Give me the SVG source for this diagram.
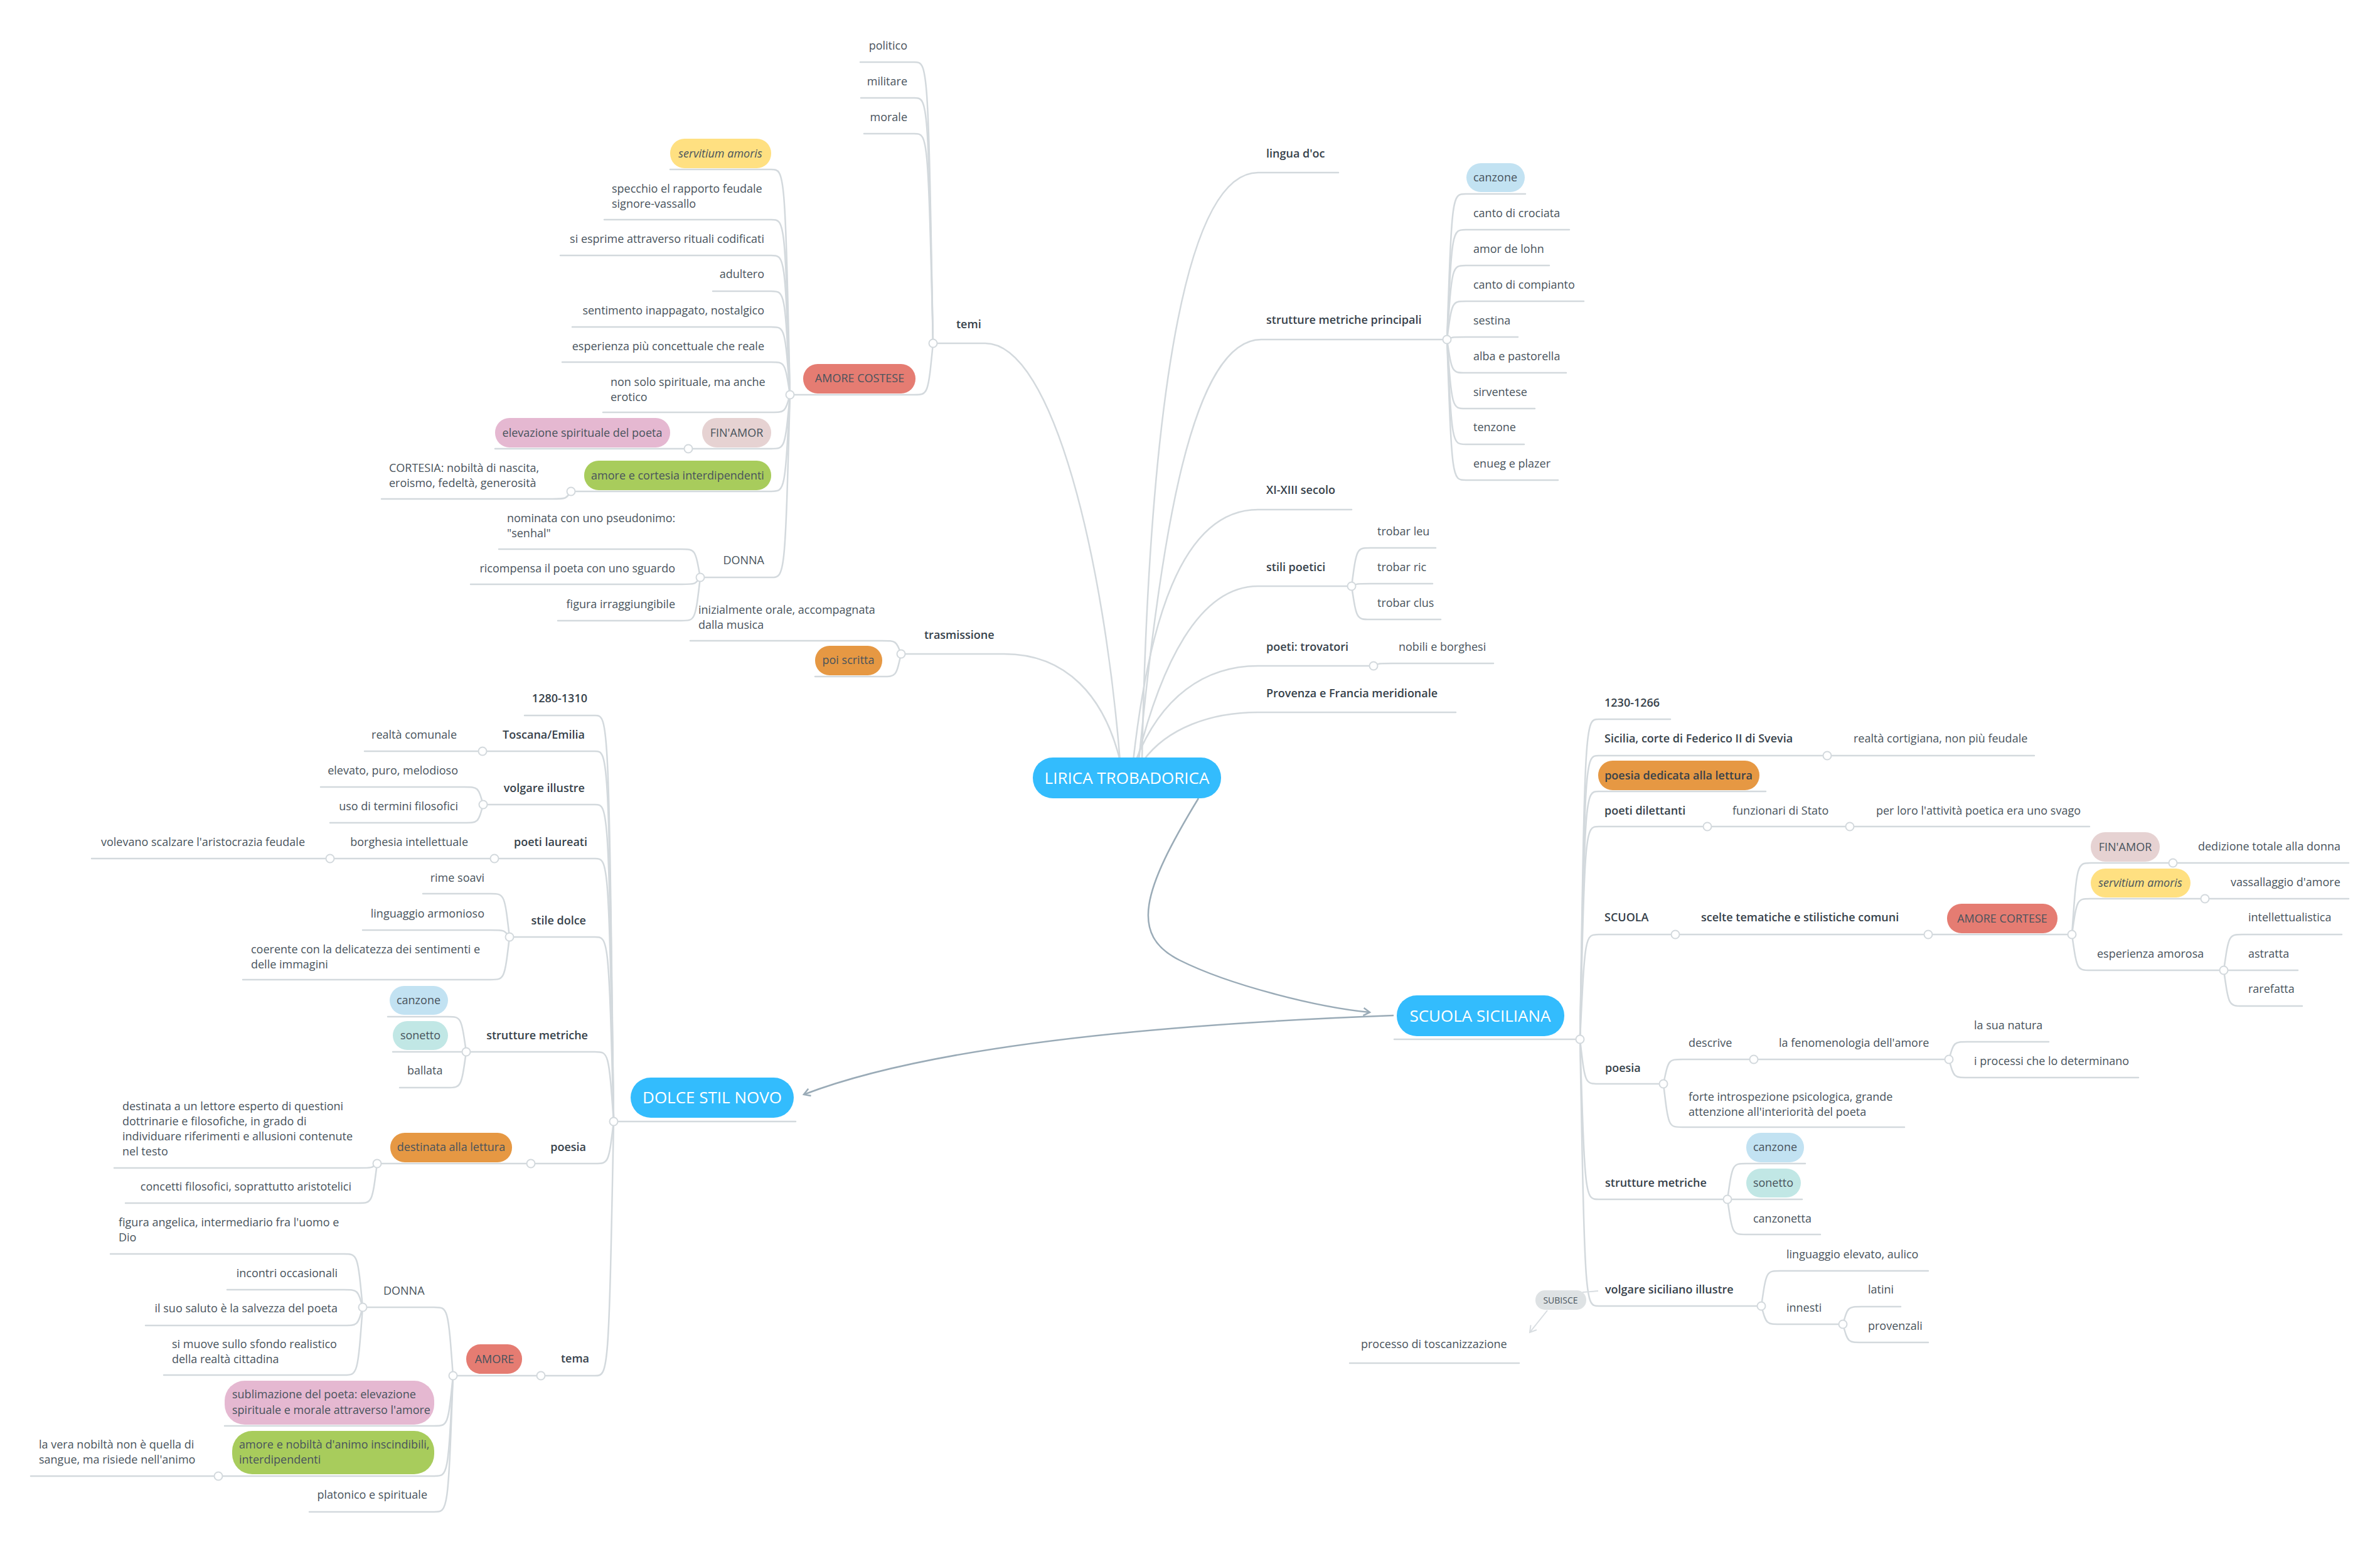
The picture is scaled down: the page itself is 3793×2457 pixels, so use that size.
<svg xmlns="http://www.w3.org/2000/svg" width="3793" height="2457" viewBox="0 0 3793 2457">
<style>
.t{font-family:"Open Sans","Liberation Sans",sans-serif;font-size:18px;fill:#48535c}
.b{font-weight:600;fill:#36414a}
.i{font-style:italic}
.e{text-anchor:end}
.m{text-anchor:middle}
.ct{font-family:"Open Sans","Liberation Sans",sans-serif;font-size:26px;fill:#ffffff;text-anchor:middle}
.ln{fill:none;stroke:#d3d9dd;stroke-width:2.5;stroke-linecap:round}
.hub{fill:#ffffff;stroke:#d3d9dd;stroke-width:2}
.ar{fill:none;stroke:#9aabb7;stroke-width:2.5}
.rel{fill:none;stroke:#d8dde1;stroke-width:2}
.cen{fill:#33bcfd}
.red{fill:#e57c72}
.ora{fill:#e69843}
.yel{fill:#ffe081}
.pin{fill:#e5b8d1}
.gre{fill:#a8cc5c}
.fin{fill:#e6d2d2}
.blu{fill:#c2e2f2}
.tea{fill:#c1e7e5}
.gry{fill:#dee2e4}
</style>
<defs>
<marker id="arr" markerUnits="userSpaceOnUse" markerWidth="20" markerHeight="20" refX="12" refY="8" orient="auto">
<path d="M2,2 L12,8 L2,14" fill="none" stroke="#9aabb7" stroke-width="2.5"/>
</marker>
<marker id="arr2" markerUnits="userSpaceOnUse" markerWidth="20" markerHeight="20" refX="12" refY="8" orient="auto">
<path d="M2,2 L12,8 L2,14" fill="none" stroke="#d8dde1" stroke-width="2"/>
</marker>
</defs>
<rect width="3793" height="2457" fill="#ffffff"/>

<g id="connectors">
<!-- root LIRICA branches -->
<path class="ln" d="M1785 1212 C1760 900 1680 547 1570 547 L1487 547"/>
<path class="ln" d="M1785 1212 C1760 1110 1700 1042 1600 1042 L1436 1042"/>
<path class="ln" d="M1820 1212 C1830 700 1880 275 2005 275 L2133 275"/>
<path class="ln" d="M1815 1212 C1850 850 1900 541 2010 541 L2306 541"/>
<path class="ln" d="M1806 1212 C1830 1000 1880 812 2005 812 L2154 812"/>
<path class="ln" d="M1812 1212 C1850 1060 1910 934 2005 934 L2154 934"/>
<path class="ln" d="M1810 1212 C1850 1110 1920 1061 2005 1061 L2189 1061"/>
<path class="ln" d="M1822 1212 C1860 1160 1930 1135 2005 1135 L2320 1135"/>
<!-- temi -->
<path class="ln" d="M1487 547 C1479 99 1479 99 1457 99 L1371 99"/>
<path class="ln" d="M1487 547 C1479 156 1479 156 1457 156 L1372 156"/>
<path class="ln" d="M1487 547 C1479 213 1479 213 1457 213 L1377 213"/>
<path class="ln" d="M1487 547 C1479 629 1479 629 1457 629 L1259 629"/>
<!-- AMORE COSTESE -->
<path class="ln" d="M1259 629 C1251 270 1251 270 1229 270 L1068 270"/>
<path class="ln" d="M1259 629 C1251 350 1251 350 1229 350 L963 350"/>
<path class="ln" d="M1259 629 C1251 407 1251 407 1229 407 L893 407"/>
<path class="ln" d="M1259 629 C1251 464 1251 464 1229 464 L1136 464"/>
<path class="ln" d="M1259 629 C1251 521 1251 521 1229 521 L912 521"/>
<path class="ln" d="M1259 629 C1251 577 1251 577 1229 577 L896 577"/>
<path class="ln" d="M1259 629 C1251 657 1251 657 1229 657 L961 657"/>
<path class="ln" d="M1259 629 C1251 715 1251 715 1229 715 L1097 715"/>
<path class="ln" d="M1259 629 C1251 783 1251 783 1229 783 L910 783"/>
<path class="ln" d="M1259 629 C1251 920 1251 920 1229 920 L1116 920"/>
<path class="ln" d="M1097 715 L789 715"/>
<path class="ln" d="M910 783 C902 795 902 795 880 795 L608 795"/>
<!-- DONNA (lirica) -->
<path class="ln" d="M1116 920 C1108 875 1108 875 1086 875 L795 875"/>
<path class="ln" d="M1116 920 C1108 931 1108 931 1086 931 L750 931"/>
<path class="ln" d="M1116 920 C1108 989 1108 989 1086 989 L889 989"/>
<!-- trasmissione -->
<path class="ln" d="M1436 1042 C1428 1021 1428 1021 1406 1021 L1100 1021"/>
<path class="ln" d="M1436 1042 C1428 1078 1428 1078 1406 1078 L1299 1078"/>
<!-- strutture metriche principali -->
<path class="ln" d="M2306 541 C2314 309 2314 309 2336 309 L2431 309"/>
<path class="ln" d="M2306 541 C2314 366 2314 366 2336 366 L2501 366"/>
<path class="ln" d="M2306 541 C2314 423 2314 423 2336 423 L2469 423"/>
<path class="ln" d="M2306 541 C2314 480 2314 480 2336 480 L2524 480"/>
<path class="ln" d="M2306 541 C2314 537 2314 537 2336 537 L2419 537"/>
<path class="ln" d="M2306 541 C2314 594 2314 594 2336 594 L2496 594"/>
<path class="ln" d="M2306 541 C2314 651 2314 651 2336 651 L2446 651"/>
<path class="ln" d="M2306 541 C2314 708 2314 708 2336 708 L2429 708"/>
<path class="ln" d="M2306 541 C2314 765 2314 765 2336 765 L2483 765"/>
<!-- stili poetici -->
<path class="ln" d="M2154 934 C2162 873 2162 873 2184 873 L2288 873"/>
<path class="ln" d="M2154 934 C2162 930 2162 930 2184 930 L2283 930"/>
<path class="ln" d="M2154 934 C2162 987 2162 987 2184 987 L2296 987"/>
<path class="ln" d="M2189 1061 C2197 1057 2197 1057 2219 1057 L2380 1057"/>
<!-- SCUOLA SICILIANA -->
<path class="ln" d="M2222 1656 L2518 1656"/>
<path class="ln" d="M2518 1656 C2526 1146 2526 1146 2548 1146 L2662 1146"/>
<path class="ln" d="M2518 1656 C2526 1204 2526 1204 2548 1204 L2912 1204"/>
<path class="ln" d="M2518 1656 C2526 1261 2526 1261 2548 1261 L2814 1261"/>
<path class="ln" d="M2518 1656 C2526 1317 2526 1317 2548 1317 L2721 1317"/>
<path class="ln" d="M2518 1656 C2526 1489 2526 1489 2548 1489 L2670 1489"/>
<path class="ln" d="M2518 1656 C2526 1727 2526 1727 2548 1727 L2651 1727"/>
<path class="ln" d="M2518 1656 C2526 1911 2526 1911 2548 1911 L2753 1911"/>
<path class="ln" d="M2518 1656 C2526 2081 2526 2081 2548 2081 L2807 2081"/>
<path class="ln" d="M2912 1204 L3242 1204"/>
<path class="ln" d="M2721 1317 L2948 1317 L3330 1317"/>
<path class="ln" d="M2670 1489 L3073 1489 L3302 1489"/>
<path class="ln" d="M3302 1489 C3310 1375 3310 1375 3332 1375 L3463 1375 L3743 1375"/>
<path class="ln" d="M3302 1489 C3310 1432 3310 1432 3332 1432 L3514 1432 L3743 1432"/>
<path class="ln" d="M3302 1489 C3310 1546 3310 1546 3332 1546 L3544 1546"/>
<path class="ln" d="M3544 1546 C3552 1489 3552 1489 3574 1489 L3732 1489"/>
<path class="ln" d="M3544 1546 L3662 1546"/>
<path class="ln" d="M3544 1546 C3552 1603 3552 1603 3574 1603 L3669 1603"/>
<path class="ln" d="M2651 1727 C2659 1688 2659 1688 2681 1688 L2795 1688 L3106 1688"/>
<path class="ln" d="M2651 1727 C2659 1796 2659 1796 2681 1796 L3035 1796"/>
<path class="ln" d="M3106 1688 C3114 1660 3114 1660 3136 1660 L3265 1660"/>
<path class="ln" d="M3106 1688 C3114 1717 3114 1717 3136 1717 L3408 1717"/>
<path class="ln" d="M2753 1911 C2761 1854 2761 1854 2783 1854 L2877 1854"/>
<path class="ln" d="M2753 1911 L2872 1911"/>
<path class="ln" d="M2753 1911 C2761 1967 2761 1967 2783 1967 L2901 1967"/>
<path class="ln" d="M2807 2081 C2815 2025 2815 2025 2837 2025 L3073 2025"/>
<path class="ln" d="M2807 2081 C2815 2110 2815 2110 2837 2110 L2937 2110"/>
<path class="ln" d="M2937 2110 C2945 2082 2945 2082 2967 2082 L3029 2082"/>
<path class="ln" d="M2937 2110 C2945 2139 2945 2139 2967 2139 L3073 2139"/>
<path class="ln" d="M2151 2172 L2421 2172"/>
<!-- DOLCE STIL NOVO -->
<path class="ln" d="M978 1787 L1268 1787"/>
<path class="ln" d="M978 1787 C970 1140 970 1140 948 1140 L836 1140"/>
<path class="ln" d="M978 1787 C970 1197 970 1197 948 1197 L769 1197"/>
<path class="ln" d="M978 1787 C970 1282 970 1282 948 1282 L770 1282"/>
<path class="ln" d="M978 1787 C970 1368 970 1368 948 1368 L788 1368"/>
<path class="ln" d="M978 1787 C970 1493 970 1493 948 1493 L812 1493"/>
<path class="ln" d="M978 1787 C970 1676 970 1676 948 1676 L743 1676"/>
<path class="ln" d="M978 1787 C970 1854 970 1854 948 1854 L846 1854"/>
<path class="ln" d="M978 1787 C970 2192 970 2192 948 2192 L862 2192"/>
<path class="ln" d="M769 1197 L581 1197"/>
<path class="ln" d="M770 1282 C762 1254 762 1254 740 1254 L511 1254"/>
<path class="ln" d="M770 1282 C762 1311 762 1311 740 1311 L526 1311"/>
<path class="ln" d="M788 1368 L526 1368 L146 1368"/>
<path class="ln" d="M812 1493 C804 1424 804 1424 782 1424 L674 1424"/>
<path class="ln" d="M812 1493 C804 1482 804 1482 782 1482 L578 1482"/>
<path class="ln" d="M812 1493 C804 1561 804 1561 782 1561 L387 1561"/>
<path class="ln" d="M743 1676 C735 1620 735 1620 713 1620 L618 1620"/>
<path class="ln" d="M743 1676 L626 1676"/>
<path class="ln" d="M743 1676 C735 1733 735 1733 713 1733 L637 1733"/>
<path class="ln" d="M846 1854 L601 1854"/>
<path class="ln" d="M601 1854 C593 1861 593 1861 571 1861 L182 1861"/>
<path class="ln" d="M601 1854 C593 1917 593 1917 571 1917 L200 1917"/>
<path class="ln" d="M862 2192 L722 2192"/>
<path class="ln" d="M722 2192 C714 2083 714 2083 692 2083 L578 2083"/>
<path class="ln" d="M722 2192 C714 2272 714 2272 692 2272 L358 2272"/>
<path class="ln" d="M722 2192 C714 2352 714 2352 692 2352 L348 2352 L49 2352"/>
<path class="ln" d="M722 2192 C714 2409 714 2409 692 2409 L493 2409"/>
<path class="ln" d="M578 2083 C570 1998 570 1998 548 1998 L176 1998"/>
<path class="ln" d="M578 2083 C570 2055 570 2055 548 2055 L362 2055"/>
<path class="ln" d="M578 2083 C570 2112 570 2112 548 2112 L232 2112"/>
<path class="ln" d="M578 2083 C570 2191 570 2191 548 2191 L261 2191"/>
<!-- relationships -->
<path class="ar" marker-end="url(#arr)" d="M1910 1272 C1820 1420 1800 1490 1880 1530 C1960 1570 2100 1605 2183 1613"/>
<path class="ar" marker-end="url(#arr)" d="M2221 1618 C1900 1630 1500 1660 1281 1744"/>
<path class="rel" d="M2547 2057 L2522 2059"/>
<path class="rel" marker-end="url(#arr2)" d="M2466 2088 L2438 2123"/>
<!-- hubs -->
<circle class="hub" cx="1487" cy="547" r="6.5"/>
<circle class="hub" cx="1259" cy="629" r="6.5"/>
<circle class="hub" cx="1097" cy="715" r="6.5"/>
<circle class="hub" cx="910" cy="783" r="6.5"/>
<circle class="hub" cx="1116" cy="920" r="6.5"/>
<circle class="hub" cx="1436" cy="1042" r="6.5"/>
<circle class="hub" cx="2306" cy="541" r="6.5"/>
<circle class="hub" cx="2154" cy="934" r="6.5"/>
<circle class="hub" cx="2189" cy="1061" r="6.5"/>
<circle class="hub" cx="2518" cy="1656" r="6.5"/>
<circle class="hub" cx="2912" cy="1204" r="6.5"/>
<circle class="hub" cx="2721" cy="1317" r="6.5"/>
<circle class="hub" cx="2948" cy="1317" r="6.5"/>
<circle class="hub" cx="2670" cy="1489" r="6.5"/>
<circle class="hub" cx="3073" cy="1489" r="6.5"/>
<circle class="hub" cx="3302" cy="1489" r="6.5"/>
<circle class="hub" cx="3463" cy="1375" r="6.5"/>
<circle class="hub" cx="3514" cy="1432" r="6.5"/>
<circle class="hub" cx="3544" cy="1546" r="6.5"/>
<circle class="hub" cx="2651" cy="1727" r="6.5"/>
<circle class="hub" cx="2795" cy="1688" r="6.5"/>
<circle class="hub" cx="3106" cy="1688" r="6.5"/>
<circle class="hub" cx="2753" cy="1911" r="6.5"/>
<circle class="hub" cx="2807" cy="2081" r="6.5"/>
<circle class="hub" cx="2937" cy="2110" r="6.5"/>
<circle class="hub" cx="978" cy="1787" r="6.5"/>
<circle class="hub" cx="769" cy="1197" r="6.5"/>
<circle class="hub" cx="770" cy="1282" r="6.5"/>
<circle class="hub" cx="788" cy="1368" r="6.5"/>
<circle class="hub" cx="526" cy="1368" r="6.5"/>
<circle class="hub" cx="812" cy="1493" r="6.5"/>
<circle class="hub" cx="743" cy="1676" r="6.5"/>
<circle class="hub" cx="846" cy="1854" r="6.5"/>
<circle class="hub" cx="601" cy="1854" r="6.5"/>
<circle class="hub" cx="862" cy="2192" r="6.5"/>
<circle class="hub" cx="722" cy="2192" r="6.5"/>
<circle class="hub" cx="578" cy="2083" r="6.5"/>
<circle class="hub" cx="348" cy="2352" r="6.5"/>
</g>

<!-- central nodes -->
<g id="n-lirica"><rect class="cen" x="1646" y="1207" width="300" height="65" rx="32"/><text class="ct" x="1796" y="1249">LIRICA TROBADORICA</text></g>
<g id="n-scuola-siciliana"><rect class="cen" x="2226" y="1586" width="267" height="65" rx="32"/><text class="ct" x="2359" y="1628">SCUOLA SICILIANA</text></g>
<g id="n-dolce"><rect class="cen" x="1005" y="1717" width="260" height="64" rx="32"/><text class="ct" x="1135" y="1758">DOLCE STIL NOVO</text></g>

<!-- LIRICA left -->
<g id="n-temi"><text class="t b" x="1524" y="523">temi</text></g>
<g id="n-politico"><text class="t e" x="1446" y="79">politico</text></g>
<g id="n-militare"><text class="t e" x="1446" y="136">militare</text></g>
<g id="n-morale"><text class="t e" x="1446" y="193">morale</text></g>
<g id="n-amore-costese"><rect class="red" x="1280" y="580" width="179" height="47" rx="23"/><text class="t m" x="1370" y="609">AMORE COSTESE</text></g>
<g id="n-servitium1"><rect class="yel" x="1068" y="221" width="161" height="47" rx="23"/><text class="t m i" x="1148" y="251">servitium amoris</text></g>
<g id="n-specchio"><text class="t" x="975" y="307">specchio el rapporto feudale<tspan x="975" dy="24">signore-vassallo</tspan></text></g>
<g id="n-esprime"><text class="t e" x="1218" y="387">si esprime attraverso rituali codificati</text></g>
<g id="n-adultero"><text class="t e" x="1218" y="443">adultero</text></g>
<g id="n-sentimento"><text class="t e" x="1218" y="501">sentimento inappagato, nostalgico</text></g>
<g id="n-esperienza1"><text class="t e" x="1218" y="558">esperienza più concettuale che reale</text></g>
<g id="n-nonsolo"><text class="t" x="973" y="615">non solo spirituale, ma anche<tspan x="973" dy="24">erotico</tspan></text></g>
<g id="n-finamor1"><rect class="fin" x="1119" y="666" width="110" height="47" rx="23"/><text class="t m" x="1174" y="696">FIN'AMOR</text></g>
<g id="n-elevazione"><rect class="pin" x="789" y="666" width="279" height="47" rx="23"/><text class="t m" x="928" y="696">elevazione spirituale del poeta</text></g>
<g id="n-amore-cortesia"><rect class="gre" x="931" y="734" width="298" height="47" rx="23"/><text class="t m" x="1080" y="764">amore e cortesia interdipendenti</text></g>
<g id="n-cortesia"><text class="t" x="620" y="752">CORTESIA: nobiltà di nascita,<tspan x="620" dy="24">eroismo, fedeltà, generosità</tspan></text></g>
<g id="n-donna1"><text class="t e" x="1218" y="899">DONNA</text></g>
<g id="n-nominata"><text class="t" x="808" y="832">nominata con uno pseudonimo:<tspan x="808" dy="24">"senhal"</tspan></text></g>
<g id="n-ricompensa"><text class="t e" x="1076" y="912">ricompensa il poeta con uno sguardo</text></g>
<g id="n-irraggiungibile"><text class="t e" x="1076" y="969">figura irraggiungibile</text></g>
<g id="n-trasmissione"><text class="t b" x="1473" y="1018">trasmissione</text></g>
<g id="n-orale"><text class="t" x="1113" y="978">inizialmente orale, accompagnata<tspan x="1113" dy="24">dalla musica</tspan></text></g>
<g id="n-scritta"><rect class="ora" x="1299" y="1029" width="107" height="47" rx="23"/><text class="t m" x="1352" y="1058">poi scritta</text></g>

<!-- LIRICA right -->
<g id="n-lingua"><text class="t b" x="2018" y="251">lingua d'oc</text></g>
<g id="n-strutture-princ"><text class="t b" x="2018" y="516">strutture metriche principali</text></g>
<g id="n-canzone1"><rect class="blu" x="2337" y="260" width="93" height="46" rx="23"/><text class="t m" x="2383" y="289">canzone</text></g>
<g id="n-crociata"><text class="t" x="2348" y="346">canto di crociata</text></g>
<g id="n-lohn"><text class="t" x="2348" y="403">amor de lohn</text></g>
<g id="n-compianto"><text class="t" x="2348" y="460">canto di compianto</text></g>
<g id="n-sestina"><text class="t" x="2348" y="517">sestina</text></g>
<g id="n-alba"><text class="t" x="2348" y="574">alba e pastorella</text></g>
<g id="n-sirventese"><text class="t" x="2348" y="631">sirventese</text></g>
<g id="n-tenzone"><text class="t" x="2348" y="687">tenzone</text></g>
<g id="n-enueg"><text class="t" x="2348" y="745">enueg e plazer</text></g>
<g id="n-secolo"><text class="t b" x="2018" y="787">XI-XIII secolo</text></g>
<g id="n-stili"><text class="t b" x="2018" y="910">stili poetici</text></g>
<g id="n-leu"><text class="t" x="2195" y="853">trobar leu</text></g>
<g id="n-ric"><text class="t" x="2195" y="910">trobar ric</text></g>
<g id="n-clus"><text class="t" x="2195" y="967">trobar clus</text></g>
<g id="n-trovatori"><text class="t b" x="2018" y="1037">poeti: trovatori</text></g>
<g id="n-nobili"><text class="t" x="2229" y="1037">nobili e borghesi</text></g>
<g id="n-provenza"><text class="t b" x="2018" y="1111">Provenza e Francia meridionale</text></g>

<!-- SCUOLA SICILIANA -->
<g id="n-1230"><text class="t b" x="2557" y="1126">1230-1266</text></g>
<g id="n-sicilia"><text class="t b" x="2557" y="1183">Sicilia, corte di Federico II di Svevia</text></g>
<g id="n-cortigiana"><text class="t" x="2954" y="1183">realtà cortigiana, non più feudale</text></g>
<g id="n-poesia-dedicata"><rect class="ora" x="2547" y="1212" width="257" height="47" rx="23"/><text class="t b m" x="2675" y="1242">poesia dedicata alla lettura</text></g>
<g id="n-dilettanti"><text class="t b" x="2557" y="1298">poeti dilettanti</text></g>
<g id="n-funzionari"><text class="t" x="2761" y="1298">funzionari di Stato</text></g>
<g id="n-svago"><text class="t" x="2990" y="1298">per loro l'attività poetica era uno svago</text></g>
<g id="n-scuola"><text class="t b" x="2557" y="1468">SCUOLA</text></g>
<g id="n-scelte"><text class="t b" x="2711" y="1468">scelte tematiche e stilistiche comuni</text></g>
<g id="n-amore-cortese"><rect class="red" x="3103" y="1440" width="176" height="47" rx="23"/><text class="t m" x="3191" y="1470">AMORE CORTESE</text></g>
<g id="n-finamor2"><rect class="fin" x="3332" y="1326" width="110" height="47" rx="23"/><text class="t m" x="3387" y="1356">FIN'AMOR</text></g>
<g id="n-dedizione"><text class="t" x="3503" y="1355">dedizione totale alla donna</text></g>
<g id="n-servitium2"><rect class="yel" x="3332" y="1384" width="159" height="46" rx="23"/><text class="t m i" x="3411" y="1413">servitium amoris</text></g>
<g id="n-vassallaggio"><text class="t" x="3555" y="1412">vassallaggio d'amore</text></g>
<g id="n-esperienza2"><text class="t" x="3342" y="1526">esperienza amorosa</text></g>
<g id="n-intellettualistica"><text class="t" x="3583" y="1468">intellettualistica</text></g>
<g id="n-astratta"><text class="t" x="3583" y="1526">astratta</text></g>
<g id="n-rarefatta"><text class="t" x="3583" y="1582">rarefatta</text></g>
<g id="n-poesia-ss"><text class="t b" x="2558" y="1708">poesia</text></g>
<g id="n-descrive"><text class="t" x="2691" y="1668">descrive</text></g>
<g id="n-fenomenologia"><text class="t" x="2835" y="1668">la fenomenologia dell'amore</text></g>
<g id="n-natura"><text class="t" x="3146" y="1640">la sua natura</text></g>
<g id="n-processi"><text class="t" x="3146" y="1697">i processi che lo determinano</text></g>
<g id="n-introspezione"><text class="t" x="2691" y="1754">forte introspezione psicologica, grande<tspan x="2691" dy="24">attenzione all'interiorità del poeta</tspan></text></g>
<g id="n-strutture-ss"><text class="t b" x="2558" y="1891">strutture metriche</text></g>
<g id="n-canzone-ss"><rect class="blu" x="2783" y="1805" width="92" height="47" rx="23"/><text class="t m" x="2829" y="1834">canzone</text></g>
<g id="n-sonetto-ss"><rect class="tea" x="2783" y="1862" width="87" height="46" rx="23"/><text class="t m" x="2826" y="1891">sonetto</text></g>
<g id="n-canzonetta"><text class="t" x="2794" y="1948">canzonetta</text></g>
<g id="n-volgare-sic"><text class="t b" x="2558" y="2061">volgare siciliano illustre</text></g>
<g id="n-aulico"><text class="t" x="2847" y="2005">linguaggio elevato, aulico</text></g>
<g id="n-innesti"><text class="t" x="2847" y="2090">innesti</text></g>
<g id="n-latini"><text class="t" x="2977" y="2061">latini</text></g>
<g id="n-provenzali"><text class="t" x="2977" y="2119">provenzali</text></g>
<g id="n-subisce"><rect class="gry" x="2447" y="2056" width="81" height="31" rx="15"/><text class="t m" style="font-size:14px" x="2487" y="2077">SUBISCE</text></g>
<g id="n-toscanizzazione"><text class="t" x="2169" y="2148">processo di toscanizzazione</text></g>

<!-- DOLCE STIL NOVO -->
<g id="n-1280"><text class="t b e" x="936" y="1119">1280-1310</text></g>
<g id="n-toscana"><text class="t b e" x="932" y="1177">Toscana/Emilia</text></g>
<g id="n-comunale"><text class="t e" x="728" y="1177">realtà comunale</text></g>
<g id="n-volgare-ill"><text class="t b e" x="932" y="1262">volgare illustre</text></g>
<g id="n-elevato"><text class="t e" x="730" y="1234">elevato, puro, melodioso</text></g>
<g id="n-termini"><text class="t e" x="730" y="1291">uso di termini filosofici</text></g>
<g id="n-laureati"><text class="t b e" x="936" y="1348">poeti laureati</text></g>
<g id="n-borghesia"><text class="t e" x="746" y="1348">borghesia intellettuale</text></g>
<g id="n-scalzare"><text class="t e" x="486" y="1348">volevano scalzare l'aristocrazia feudale</text></g>
<g id="n-stile-dolce"><text class="t b e" x="934" y="1473">stile dolce</text></g>
<g id="n-rime"><text class="t e" x="772" y="1405">rime soavi</text></g>
<g id="n-armonioso"><text class="t e" x="772" y="1462">linguaggio armonioso</text></g>
<g id="n-coerente"><text class="t" x="400" y="1519">coerente con la delicatezza dei sentimenti e<tspan x="400" dy="24">delle immagini</tspan></text></g>
<g id="n-strutture-dsn"><text class="t b e" x="937" y="1656">strutture metriche</text></g>
<g id="n-canzone-dsn"><rect class="blu" x="621" y="1571" width="93" height="46" rx="23"/><text class="t m" x="667" y="1600">canzone</text></g>
<g id="n-sonetto-dsn"><rect class="tea" x="626" y="1627" width="88" height="46" rx="23"/><text class="t m" x="670" y="1656">sonetto</text></g>
<g id="n-ballata"><text class="t" x="649" y="1712">ballata</text></g>
<g id="n-poesia-dsn"><text class="t b e" x="934" y="1834">poesia</text></g>
<g id="n-destinata"><rect class="ora" x="622" y="1805" width="194" height="47" rx="23"/><text class="t m" x="719" y="1834">destinata alla lettura</text></g>
<g id="n-lettore"><text class="t" x="195" y="1769">destinata a un lettore esperto di questioni<tspan x="195" dy="24">dottrinarie e filosofiche, in grado di</tspan><tspan x="195" dy="24">individuare riferimenti e allusioni contenute</tspan><tspan x="195" dy="24">nel testo</tspan></text></g>
<g id="n-concetti"><text class="t e" x="560" y="1897">concetti filosofici, soprattutto aristotelici</text></g>
<g id="n-tema"><text class="t b e" x="939" y="2171">tema</text></g>
<g id="n-amore"><rect class="red" x="743" y="2142" width="89" height="47" rx="23"/><text class="t m" x="788" y="2172">AMORE</text></g>
<g id="n-donna2"><text class="t" x="611" y="2063">DONNA</text></g>
<g id="n-angelica"><text class="t" x="189" y="1954">figura angelica, intermediario fra l'uomo e<tspan x="189" dy="24">Dio</tspan></text></g>
<g id="n-incontri"><text class="t e" x="538" y="2035">incontri occasionali</text></g>
<g id="n-saluto"><text class="t e" x="538" y="2091">il suo saluto è la salvezza del poeta</text></g>
<g id="n-sfondo"><text class="t" x="274" y="2148">si muove sullo sfondo realistico<tspan x="274" dy="24">della realtà cittadina</tspan></text></g>
<g id="n-sublimazione"><rect class="pin" x="358" y="2200" width="334" height="70" rx="32"/><text class="t" x="370" y="2228">sublimazione del poeta: elevazione<tspan x="370" dy="25">spirituale e morale attraverso l'amore</tspan></text></g>
<g id="n-nobilta"><rect class="gre" x="370" y="2280" width="322" height="69" rx="32"/><text class="t" x="381" y="2308">amore e nobiltà d'animo inscindibili,<tspan x="381" dy="24">interdipendenti</tspan></text></g>
<g id="n-vera-nobilta"><text class="t" x="62" y="2308">la vera nobiltà non è quella di<tspan x="62" dy="24">sangue, ma risiede nell'animo</tspan></text></g>
<g id="n-platonico"><text class="t e" x="681" y="2388">platonico e spirituale</text></g>
</svg>
